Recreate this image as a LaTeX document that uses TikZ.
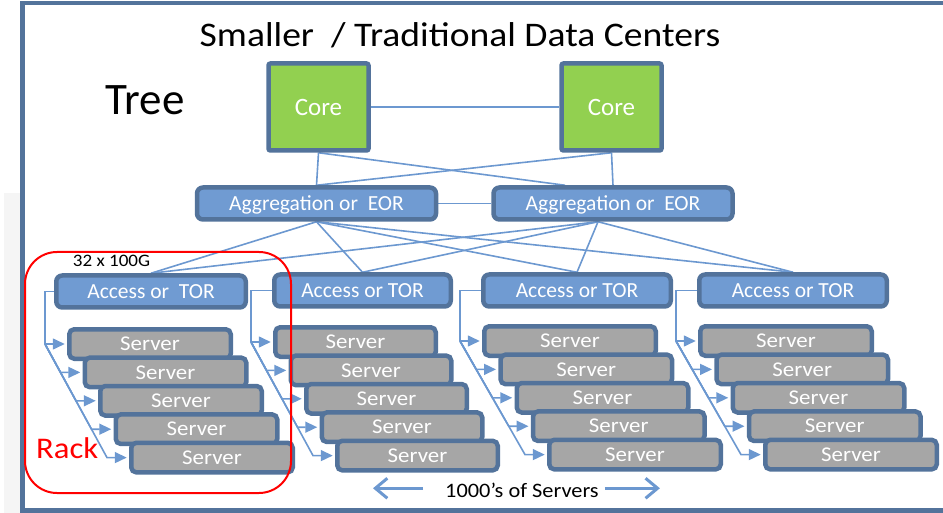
\documentclass[tikz,border=0pt]{standalone}
\usepackage{fontspec}
\setmainfont{Carlito}
\newfontfamily\widefont[FakeStretch=1.09]{Carlito}
\usetikzlibrary{arrows.meta,calc}
\definecolor{frameblue}{RGB}{83,115,155}
\definecolor{boxblue}{RGB}{112,155,210}
\definecolor{wireblue}{RGB}{108,152,208}
\definecolor{coregreen}{RGB}{146,208,80}
\definecolor{servergray}{RGB}{166,166,166}
\pgfdeclarelayer{background}
\pgfsetlayers{background,main}
\begin{document}
\begin{tikzpicture}[x=1pt,y=-1pt,
  box/.style={draw=frameblue, line width=4.5pt, text=white, inner sep=0pt, text depth=0pt},
  corebox/.style={box, fill=coregreen, rounded corners=2pt, minimum width=100pt,
    minimum height=87pt, text height=16.1pt, font=\fontsize{25}{30}\selectfont},
  switchbox/.style={box, fill=boxblue, rounded corners=6pt, minimum height=32pt,
    text height=13.8pt, font=\fontsize{21.5}{26}\selectfont},
  serverbox/.style={box, fill=servergray, rounded corners=5pt, minimum height=29.5pt,
    text height=13.5pt, font=\widefont\fontsize{21}{25}\selectfont},
  wire/.style={draw=wireblue, line width=1.6pt},
  feed/.style={wire, -{Triangle[length=12pt,width=11pt]}},
  bigarrow/.style={draw=wireblue, line width=3pt, -{Straight Barb[length=12pt,width=20pt]}},
  label/.style={inner sep=0pt, text depth=0pt, anchor=base},
]
\useasboundingbox (0,0) rectangle (943,513);

% page frame and the pale strip at the left edge
\fill[black!4] (4,193) rectangle (20,513);
\draw[frameblue, line width=4.5pt] (22.5,3) rectangle (960,510.5);

% titles
\node[label, font=\widefont\fontsize{34.5}{40}\selectfont] (title) at (460,47) {Smaller~~/ Traditional Data Centers};
\node[label, font=\fontsize{45}{50}\selectfont] (tree) at (145,115) {Tree};

% core layer
\node[corebox] (core1) at (318.5,107) {Core};
\node[corebox] (core2) at (611.5,107) {Core};

% aggregation layer
\node[switchbox, minimum width=239pt] (agg1) at (316.5,203.5) {Aggregation or~~EOR};
\node[switchbox, minimum width=239pt] (agg2) at (613,203.5) {Aggregation or~~EOR};

% access layer
\node[switchbox, minimum width=189.5pt] (acc1) at (151,291.5) {Access or~~TOR};
\node[switchbox, minimum width=176.5pt] (acc2) at (362.5,290.5) {Access or TOR};
\node[switchbox, minimum width=187.5pt] (acc3) at (577,290.5) {Access or TOR};
\node[switchbox, minimum width=187.5pt] (acc4) at (793,290.5) {Access or TOR};

% server stacks: rack / left edge / step / width / top
\foreach \r/\xo/\dx/\w/\yo in {1/67/15.5/166/327, 2/273/15.5/165/325, 3/482/16.25/176/324, 4/698/16.25/176/324} {
  \foreach \i in {0,...,4} {
    \node[serverbox, minimum width=\w pt-4.5pt] (s\r-\i)
      at ({\xo+\i*\dx+\w/2},{\yo+\i*28.4+17}) {Server};
  }
}

\begin{pgfonlayer}{background}
  % core links
  \draw[wire] (core1) -- (core2);
  \draw[wire] (core1.south) -- (agg1.north);
  \draw[wire] (core1.south) -- ($(agg2.north)+(-48,0)$);
  \draw[wire] (core2.south) -- (agg1.north);
  \draw[wire] (core2.south) -- (agg2.north);
  % aggregation links
  \draw[wire] (agg1) -- (agg2);
  \foreach \r in {1,...,4} {
    \draw[wire] (agg1.south) -- (acc\r.north);
    \draw[wire] ($(agg2.south)+(-15,0)$) -- (acc\r.north);
  }
  % top-of-rack switch to each server
  \foreach \r in {1,...,4} {
    \draw[wire] (acc\r.west) -| ($(s\r-0.west)+(-22,0)$);
    \foreach \i in {0,...,4} {
      \draw[feed] ($(s\r-0.west)+(-22,0)$) -- ($(s\r-\i.west)+(-22,0)$)
        -- ($(s\r-\i.west)+(-2.25,0)$);
    }
  }
\end{pgfonlayer}

% rack outline and labels
\draw[red, line width=2pt, rounded corners=32pt] (25,252) rectangle (291,493);
\node[label, font=\widefont\fontsize{30}{36}\selectfont, text=red, anchor=base west] (rack) at (36,458) {Rack};
\node[label, font=\widefont\fontsize{17.5}{20}\selectfont] (ports) at (111.5,267) {32 x 100G};

% server count with arrows
\node[label, font=\widefont\fontsize{20.5}{24}\selectfont, anchor=base west] (count) at (445,497) {1000’s of Servers};
\coordinate (countmid) at ($(count.west)!0.5!(count.east)+(0,-1.5)$);
\draw[bigarrow] ($(count.west|-countmid)+(-22,0)$) -- ($(count.west|-countmid)+(-72,0)$);
\draw[bigarrow] ($(count.east|-countmid)+(6,0)$) -- ($(count.east|-countmid)+(61,0)$);
\end{tikzpicture}
\end{document}
